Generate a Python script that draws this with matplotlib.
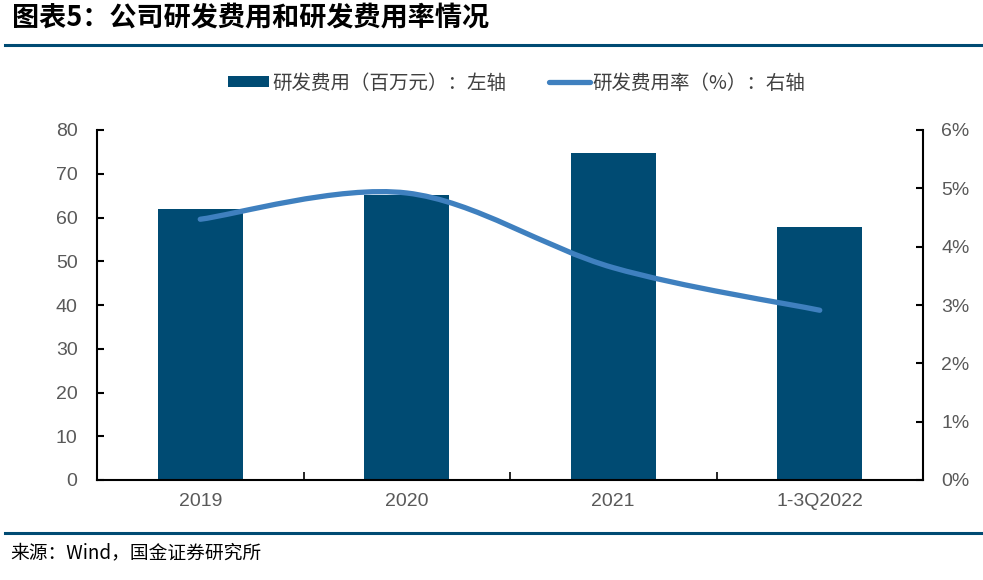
import matplotlib.pyplot as plt
from matplotlib.path import Path
from matplotlib.patches import PathPatch, Patch
from matplotlib.lines import Line2D
from matplotlib.ticker import FuncFormatter, FixedLocator
import numpy as np

plt.rcParams['font.family'] = ['Liberation Sans', 'Noto Sans CJK SC', 'DejaVu Sans']

categories = ['2019', '2020', '2021', '1-3Q2022']
rd_expense = [61.9, 65.1, 74.7, 57.8]          # 百万元
rd_ratio = [4.47, 4.92, 3.64, 2.91]            # %

bar_color = '#004B73'
line_color = '#3F80BF'
text_grey = '#595959'

fig = plt.figure(figsize=(9.83, 5.8), dpi=100)
ax = fig.add_axes([97 / 983, 1 - 480 / 580, (923 - 97) / 983, (480 - 130) / 580])
ax2 = ax.twinx()

x = np.arange(len(categories))
ax.bar(x, rd_expense, width=0.41, color=bar_color, zorder=2)
ax.set_xlim(-0.5, len(categories) - 0.5)
ax.set_ylim(0, 80)
ax.set_yticks(np.arange(0, 81, 10))
ax.set_xticks(x)
ax.set_xticklabels(categories)
ax.xaxis.set_minor_locator(FixedLocator(np.arange(-0.5, len(categories), 1)))

ax2.set_ylim(0, 6)
ax2.set_yticks(np.arange(0, 7, 1))
ax2.yaxis.set_major_formatter(FuncFormatter(lambda v, p: f'{v:.0f}%'))

# smoothed line (Excel-style bezier through the data points)
pts = list(zip(x.astype(float), rd_ratio))
verts = [pts[0]]
codes = [Path.MOVETO]
for i in range(len(pts) - 1):
    p0 = pts[i - 1] if i > 0 else pts[i]
    p1 = pts[i]
    p2 = pts[i + 1]
    p3 = pts[i + 2] if i + 2 < len(pts) else pts[i + 1]
    c1 = (p1[0] + (p2[0] - p0[0]) / 6, p1[1] + (p2[1] - p0[1]) / 6)
    c2 = (p2[0] - (p3[0] - p1[0]) / 6, p2[1] - (p3[1] - p1[1]) / 6)
    verts += [c1, c2, p2]
    codes += [Path.CURVE4] * 3
ax2.add_patch(PathPatch(Path(verts, codes), facecolor='none', edgecolor=line_color,
                        lw=3.8, capstyle='round', zorder=3))

for a in (ax, ax2):
    a.spines['top'].set_visible(False)
    for s in a.spines.values():
        s.set_linewidth(1.5)
        s.set_color('black')
ax.spines['right'].set_visible(False)
ax2.spines['left'].set_visible(False)
ax2.spines['bottom'].set_visible(False)

ax.tick_params(axis='y', direction='in', length=5, width=1.5, labelsize=14,
               labelcolor=text_grey, pad=14)
ax.tick_params(axis='x', which='major', length=0, labelsize=14, labelcolor=text_grey, pad=9)
ax.tick_params(axis='x', which='minor', direction='in', length=6, width=1.2)
ax2.tick_params(axis='y', direction='in', length=5, width=1.5, labelsize=14,
                labelcolor=text_grey, pad=13)

handles = [Patch(facecolor=bar_color, edgecolor='none'),
           Line2D([0], [0], color=line_color, lw=3.8, solid_capstyle='round')]
labels = ['研发费用（百万元）：左轴', '研发费用率（%）：右轴']
fig.legend(handles, labels, loc='center', bbox_to_anchor=(0.526, 1 - 83 / 580), ncol=2,
           frameon=False, prop={'family': ['Noto Sans CJK SC'], 'size': 14},
           labelcolor='#404040', handlelength=2.1, handleheight=0.55, handletextpad=0.15,
           columnspacing=2.2)

fig.text(0.012, 1 - 18 / 580, '图表5：公司研发费用和研发费用率情况', fontsize=19.5,
         fontweight='bold', style='italic', family=['Noto Sans CJK SC'], va='center')
fig.add_artist(Line2D([5 / 983, 1], [1 - 45 / 580] * 2, color=bar_color, lw=2.2))
fig.add_artist(Line2D([5 / 983, 1], [1 - 533 / 580] * 2, color=bar_color, lw=2.2))
fig.text(0.01, 1 - 553 / 580, '来源：Wind，国金证券研究所', fontsize=13.5,
         family=['Noto Sans CJK SC'], va='center')

fig.savefig('out.png', dpi=100)
